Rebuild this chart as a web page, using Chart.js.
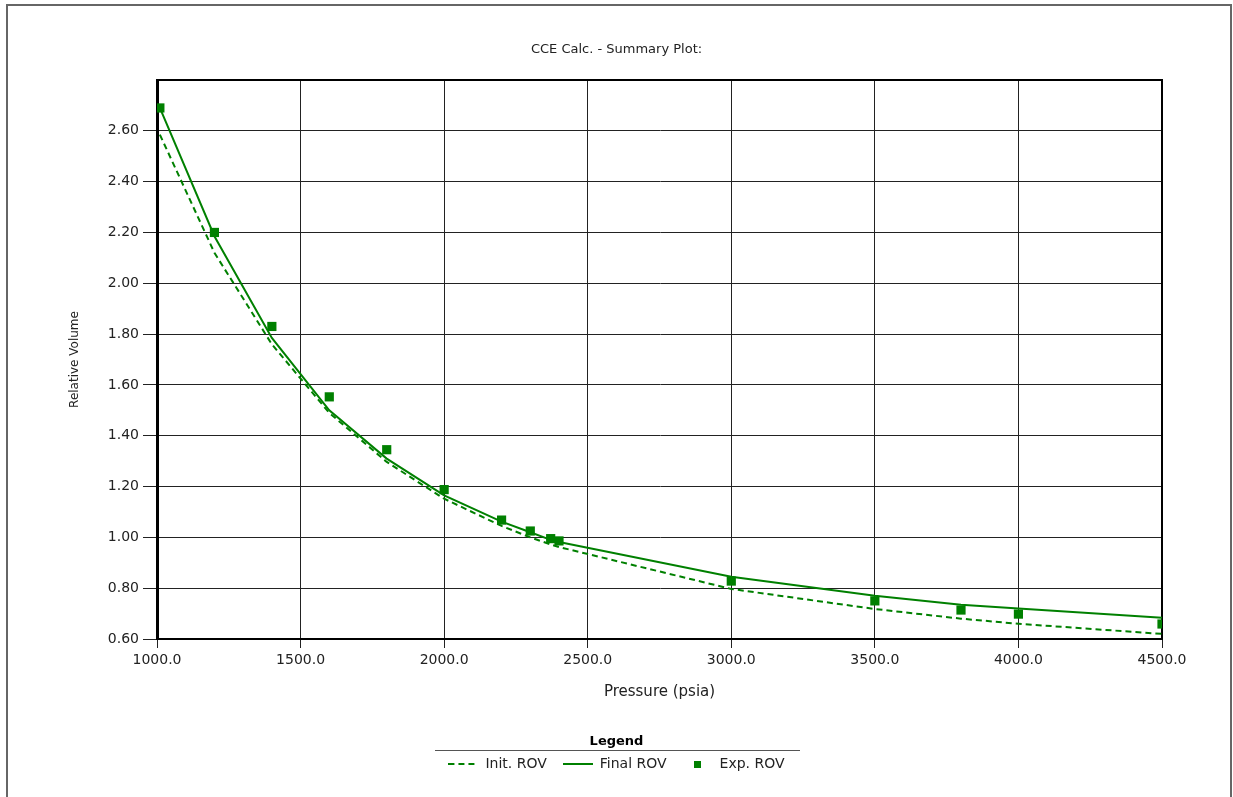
<!DOCTYPE html>
<html>
<head>
<meta charset="utf-8">
<title>CCE Calc. - Summary Plot</title>
<script src="https://cdn.jsdelivr.net/npm/chart.js@4.4.1/dist/chart.umd.min.js"></script>
<style>
  html, body { margin: 0; padding: 0; background: #fff; }
  canvas { display: block; }
</style>
</head>
<body>
<canvas id="cce" width="1233" height="797"></canvas>
<script>
// pressure steps (psia) and relative volumes
const pressures = [1010, 1200, 1400, 1600, 1800, 2000, 2200, 2300, 2371, 2400, 3000, 3500, 3800, 4000, 4500];
const initRov  = [2.585, 2.12, 1.76, 1.49, 1.297, 1.152, 1.045, 1.0, 0.972, 0.962, 0.797, 0.718, 0.68, 0.66, 0.62];
const finalRov = [2.69, 2.185, 1.785, 1.50, 1.31, 1.165, 1.062, 1.02, 0.99, 0.982, 0.845, 0.77, 0.735, 0.72, 0.684];
const expRov   = [2.69, 2.20, 1.83, 1.553, 1.345, 1.188, 1.068, 1.025, 0.995, 0.986, 0.828, 0.75, 0.714, 0.698, 0.659];

const xTicks = [1000, 1500, 2000, 2500, 3000, 3500, 4000, 4500];
const yTicks = [0.6, 0.8, 1.0, 1.2, 1.4, 1.6, 1.8, 2.0, 2.2, 2.4, 2.6, 2.8];

const GREEN = '#008000';
const FONT = 'DejaVu Sans';
const PAD_BOTTOM = 16;

function toPoints(ys) {
  return pressures.map((p, i) => ({ x: p, y: ys[i] }));
}

// small canvases used as legend symbols
function legendSymbol(kind) {
  const c = document.createElement('canvas');
  if (kind === 'square') {
    c.width = 7; c.height = 7;
    const g = c.getContext('2d');
    g.fillStyle = GREEN;
    g.fillRect(0, 0, 7, 7);
    return c;
  }
  c.width = 30; c.height = 4;
  const g = c.getContext('2d');
  g.strokeStyle = GREEN;
  g.lineWidth = 2;
  if (kind === 'dash') g.setLineDash([6, 4]);
  g.beginPath();
  g.moveTo(0, 2);
  g.lineTo(30, 2);
  g.stroke();
  return c;
}
const symbols = [legendSymbol('dash'), legendSymbol('line'), legendSymbol('square')];

// outer window frame, plot frame and the rule under the legend title
const framePlugin = {
  id: 'frames',
  beforeDraw(chart) {
    const ctx = chart.ctx;
    ctx.save();
    ctx.fillStyle = '#fff';
    ctx.fillRect(0, 0, chart.width, chart.height);
    ctx.strokeStyle = '#666';
    ctx.lineWidth = 2;
    ctx.beginPath();
    ctx.moveTo(7, chart.height);
    ctx.lineTo(7, 5);
    ctx.lineTo(1231, 5);
    ctx.lineTo(1231, chart.height);
    ctx.stroke();
    ctx.restore();
  },
  beforeDatasetsDraw(chart) {
    const { ctx, chartArea: a } = chart;
    ctx.save();
    ctx.strokeStyle = '#000';
    ctx.lineWidth = 2;
    ctx.beginPath();
    ctx.moveTo(a.left, a.top);
    ctx.lineTo(a.right, a.top);
    ctx.lineTo(a.right, a.bottom);
    ctx.stroke();
    ctx.restore();
  },
  afterDraw(chart) {
    const lg = chart.legend;
    if (!lg) return;
    const ctx = chart.ctx;
    const y = Math.round(lg.top + 6 + 7.8 + 7) + 0.5;
    ctx.save();
    ctx.strokeStyle = '#555';
    ctx.lineWidth = 1;
    ctx.beginPath();
    ctx.moveTo(435, y);
    ctx.lineTo(800, y);
    ctx.stroke();
    ctx.restore();
  }
};

new Chart(document.getElementById('cce'), {
  type: 'scatter',
  data: {
    datasets: [
      {
        label: 'Init. ROV',
        data: toPoints(initRov),
        showLine: true,
        borderColor: GREEN,
        borderWidth: 2,
        borderDash: [6, 4],
        pointRadius: 0,
        fill: false
      },
      {
        label: 'Final ROV',
        data: toPoints(finalRov),
        showLine: true,
        borderColor: GREEN,
        borderWidth: 2,
        pointRadius: 0,
        fill: false
      },
      {
        label: 'Exp. ROV',
        data: toPoints(expRov),
        showLine: false,
        pointStyle: 'rect',
        pointRadius: 6.5,
        pointBorderWidth: 0,
        backgroundColor: GREEN,
        borderColor: GREEN
      }
    ]
  },
  options: {
    responsive: false,
    animation: false,
    devicePixelRatio: 1,
    layout: { padding: { left: 0, right: 0, top: 0, bottom: PAD_BOTTOM } },
    plugins: {
      title: {
        display: true,
        text: 'CCE Calc. - Summary Plot:',
        color: '#222',
        font: { family: FONT, size: 13, weight: 'normal' },
        padding: { top: 42.2, bottom: 22.2 }
      },
      legend: {
        position: 'bottom',
        title: {
          display: true,
          text: 'Legend',
          color: '#000',
          font: { family: FONT, size: 13, weight: 'bold' },
          padding: { top: 6, bottom: -9.8 }
        },
        labels: {
          color: '#222',
          font: { family: FONT, size: 14 },
          usePointStyle: true,
          pointStyleWidth: 30,
          padding: 16,
          generateLabels(chart) {
            return chart.data.datasets.map((ds, i) => ({
              text: ds.label,
              datasetIndex: i,
              pointStyle: symbols[i],
              fillStyle: GREEN,
              strokeStyle: GREEN,
              lineWidth: 0,
              hidden: false,
              fontColor: '#222'
            }));
          }
        }
      },
      tooltip: { enabled: false }
    },
    scales: {
      x: {
        type: 'linear',
        min: xTicks[0],
        max: xTicks[xTicks.length - 1],
        afterBuildTicks(scale) { scale.ticks = xTicks.map(v => ({ value: v })); },
        afterFit(scale) {
          const lg = scale.chart.legend ? scale.chart.legend.height : 0;
          scale.height = scale.chart.height - PAD_BOTTOM - lg - 639;
        },
        ticks: {
          color: '#222',
          font: { family: FONT, size: 14 },
          padding: 4,
          maxRotation: 0,
          callback: v => v.toFixed(1)
        },
        grid: { color: '#222', lineWidth: 1, tickLength: 9, tickColor: '#222' },
        border: { color: '#000', width: 2 },
        title: {
          display: true,
          text: 'Pressure (psia)',
          color: '#222',
          font: { family: FONT, size: 15 },
          padding: { top: 0, bottom: 28.2 }
        }
      },
      y: {
        type: 'linear',
        min: yTicks[0],
        max: yTicks[yTicks.length - 1],
        afterBuildTicks(scale) { scale.ticks = yTicks.map(v => ({ value: v })); },
        afterFit(scale) { scale.width = 157; },
        ticks: {
          color: '#222',
          font: { family: FONT, size: 14 },
          padding: 4,
          callback: v => (Math.abs(v - 2.8) < 1e-6 ? '' : v.toFixed(2))
        },
        grid: {
          color: '#222',
          lineWidth: 1,
          tickLength: 14,
          tickColor: c => (c.tick && Math.abs(c.tick.value - 2.8) < 1e-6 ? 'rgba(0,0,0,0)' : '#222')
        },
        border: { color: '#000', width: 3 },
        title: {
          display: true,
          text: 'Relative Volume',
          color: '#222',
          font: { family: FONT, size: 12 },
          padding: { top: 67.8, bottom: 0 }
        }
      },
      // empty right-hand margin so title and legend centre on the full width
      yRight: {
        type: 'linear',
        position: 'right',
        min: yTicks[0],
        max: yTicks[yTicks.length - 1],
        afterFit(scale) { scale.width = 71; },
        ticks: { display: false },
        grid: { display: false },
        border: { display: false }
      }
    }
  },
  plugins: [framePlugin]
});
</script>
</body>
</html>
